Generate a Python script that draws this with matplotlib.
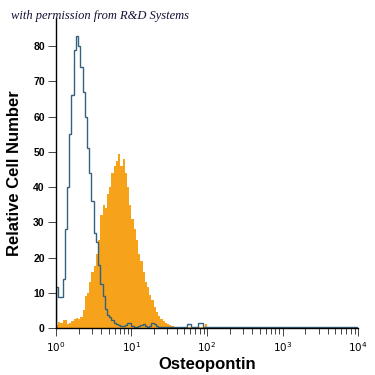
import numpy as np
import matplotlib
matplotlib.use("Agg")
import matplotlib.pyplot as plt

# ---- data ----
n_bins = 136
log_min, log_max = 0, 4

isotype_counts = [
    11.5, 8.7, 8.7, 14, 28, 40, 55, 66, 79, 83,
    80, 74, 67, 60, 51, 44, 36, 27, 24.5, 18,
    12.5, 9, 5.5, 3.7, 3, 2.2, 1.3, 1, 0.8, 0.6,
    0.6, 0.8, 1.3, 1.3, 0.6, 0.4, 0.4, 0.5, 0.8, 1.2,
    0.6, 0.4, 0.6, 1.3, 1.2, 0.5, 0.3, 0.3, 0.3, 0.3,
    0.3, 0.3, 0.3, 0.3, 0.3, 0.3, 0.3, 0.3, 0.3, 1.2,
    1.2, 0.3, 0.3, 0.3, 1.3, 1.3, 0.3, 0.3,
] + [0.2] * 68

osteopontin_counts = [
    0.8, 1.8, 1.5, 2.3, 2.3, 1.2, 1.5, 2.1, 2.5, 2.8,
    2.5, 3.2, 5, 9, 10, 13, 16, 17.5, 21, 25,
    32, 35, 34, 38, 40, 44, 46, 47.5, 49.5, 46,
    48, 44, 40, 35, 31, 28, 25, 21, 19, 16,
    13, 11.5, 9.5, 8, 6, 4.5, 3.5, 2.5, 2, 1.5,
    1.2, 0.8, 0.5, 0.4, 0.3, 0.3, 0.3, 0.3, 0.3, 0.3,
    0.3, 0.3, 0.3, 0.3, 0.3, 0.3, 0.3, 1.0,
] + [0.0] * 68

y_ticks = [0, 10, 20, 30, 40, 50, 60, 70, 80]
x_ticks = [1, 10, 100, 1000, 10000]
x_ticklabels = [r"$10^0$", r"$10^1$", r"$10^2$", r"$10^3$", r"$10^4$"]

edges = 10 ** np.linspace(log_min, log_max, n_bins + 1)

fig = plt.figure(figsize=(3.75, 3.75), dpi=100)
ax = fig.add_axes([0.149, 0.1253, 0.806, 0.827])

ax.stairs(osteopontin_counts, edges, fill=True, color="#f7a21b", linewidth=0)
ax.stairs(isotype_counts, edges, color="#35617d", linewidth=1.0)

ax.set_xscale("log")
ax.set_xlim(1, 10000)
ax.set_ylim(0, 88)

for s in ["top", "right"]:
    ax.spines[s].set_visible(False)
for s in ["left", "bottom"]:
    ax.spines[s].set_color("black")
    ax.spines[s].set_linewidth(1.0)

ax.set_yticks(y_ticks)
ax.set_yticklabels([str(v) for v in y_ticks], fontsize=7.5, fontweight="bold",
                   family="Liberation Sans")
ax.set_xticks(x_ticks)
ax.set_xticklabels(x_ticklabels, fontsize=7.5)
ax.tick_params(axis="y", length=6, width=0.7, pad=2, color="#444444")
ax.tick_params(axis="x", which="major", length=6, width=0.7, pad=3, color="#444444")
ax.tick_params(axis="x", which="minor", length=4, width=0.7, color="#444444")
ax.xaxis.set_minor_locator(matplotlib.ticker.LogLocator(base=10, subs=np.arange(2, 10)))
ax.xaxis.set_minor_formatter(matplotlib.ticker.NullFormatter())

ax.set_xlabel("Osteopontin", fontsize=12, fontweight="bold", family="Liberation Sans",
              labelpad=2)
ax.set_ylabel("Relative Cell Number", fontsize=12, fontweight="bold",
              family="Liberation Sans", labelpad=8)

fig.text(0.03, 0.957, "with permission from R&D Systems", fontsize=9,
         style="italic", family="Liberation Serif", color="#111133", va="center")

fig.savefig("out.png", dpi=100)
